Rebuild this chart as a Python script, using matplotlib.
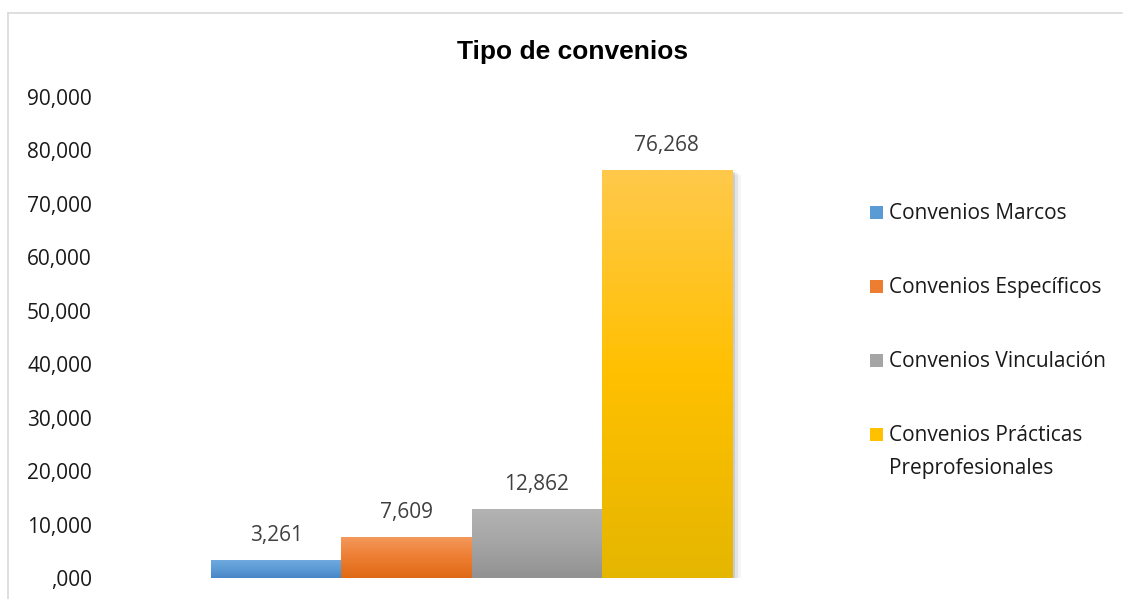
import numpy as np
import matplotlib.pyplot as plt
from matplotlib.patches import Rectangle
from matplotlib.colors import LinearSegmentedColormap

# data
series = ["Convenios Marcos", "Convenios Específicos", "Convenios Vinculación",
          "Convenios Prácticas\nPreprofesionales"]
values = [3.261, 7.609, 12.862, 76.268]
yticks = [0, 10, 20, 30, 40, 50, 60, 70, 80, 90]
# gradient colours: top, middle, bottom
grad_top = ["#70a9e0", "#f4995c", "#b3b3b3", "#ffc94a"]
grad_mid = ["#5b9bd5", "#ed7d31", "#a5a5a5", "#ffc000"]
grad_bot = ["#4885c8", "#df6915", "#929292", "#e5b600"]


def fmt(v):
    s = f"{v:.3f}".replace(".", ",")
    return s[1:] if s.startswith("0") else s


plt.rcParams['font.family'] = ['Open Sans', 'DejaVu Sans']
fs = 15

W, H = 1123, 599
fig = plt.figure(figsize=(W / 100, H / 100), dpi=100)

# outer chart frame (light gray)
fig.add_artist(plt.Line2D([8 / W, 1122 / W], [1 - 13 / H, 1 - 13 / H], color="#d9d9d9", lw=1.2))
fig.add_artist(plt.Line2D([8 / W, 8 / W], [0, 1 - 13 / H], color="#d9d9d9", lw=1.2))

ax = fig.add_axes([92 / W, (H - 578) / H, (868 - 92) / W, (578 - 97) / H])

n = len(values)
xs = np.arange(n) - (n - 1) / 2
for i, (x, v) in enumerate(zip(xs, values)):
    # soft shadow
    for k, a in enumerate([0.10, 0.07, 0.04]):
        dx = 0.02 + 0.025 * k
        dy = 0.25 + 0.3 * k
        ax.add_patch(Rectangle((x - 0.5 + dx, -dy), 1.0, v, color="#000000",
                               alpha=a, lw=0, zorder=1))
    cmap = LinearSegmentedColormap.from_list(
        "g%d" % i, [grad_bot[i], grad_mid[i], grad_top[i]])
    grad = np.linspace(0, 1, 256).reshape(-1, 1)
    ax.imshow(grad, extent=(x - 0.5, x + 0.5, 0, v), origin="lower",
              cmap=cmap, aspect="auto", zorder=2 + i * 0.1)
    ax.text(x, v + 4.7, fmt(v), ha="center", va="center", fontsize=fs,
            color="#404040")

ax.set_xlim(-2.914, 3.044)
ax.set_ylim(0, 90)
ax.set_xticks([])
ax.set_yticks(yticks)
ax.set_yticklabels([fmt(t) for t in yticks], fontsize=fs, color="#1a1a1a")
ax.tick_params(axis="y", length=0, pad=0)
for sp in ax.spines.values():
    sp.set_visible(False)

fig.text(573 / W, 1 - 52 / H, "Tipo de convenios", ha="center", va="center",
         fontsize=19, fontweight="bold", family="Liberation Sans")

# legend
leg_y = [212, 286, 360, 434]
for i, (lab, y) in enumerate(zip(series, leg_y)):
    fig.add_artist(Rectangle((870 / W, 1 - (y + 7) / H), 13 / W, 13 / H,
                             transform=fig.transFigure, color=grad_mid[i], lw=0))
    fig.text(889 / W, 1 - (y - 9) / H, lab, ha="left", va="top", fontsize=fs,
             color="#1a1a1a", linespacing=1.72)

fig.savefig("out.png", dpi=100)
